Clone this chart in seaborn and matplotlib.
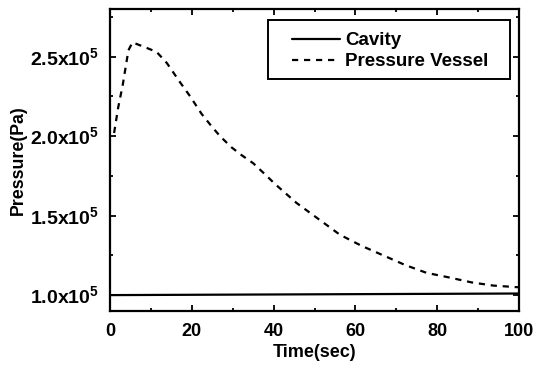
import numpy as np
import pandas as pd
import matplotlib
matplotlib.use("Agg")
import matplotlib.pyplot as plt
import seaborn as sns
from matplotlib.ticker import MultipleLocator, FuncFormatter
from matplotlib.patches import Rectangle

# Data (pressure in Pa)
cavity_t = [0, 20, 40, 60, 80, 100]
cavity_p = [1.000e5, 1.002e5, 1.004e5, 1.006e5, 1.008e5, 1.010e5]

vessel_t = [1.0, 2.0, 3.1, 4.5, 5.5, 8.5, 11.4, 13.9, 17.1, 19.6, 22.4, 24.9, 26.9, 29.7,
            32.2, 35.0, 37.9, 40.3, 45.6, 50.9, 56.2, 61.5, 66.8, 72.1, 77.4, 83.1,
            88.4, 93.7, 99.4, 100.0]
vessel_p = [2.02e5, 2.18e5, 2.32e5, 2.54e5, 2.59e5, 2.56e5, 2.53e5, 2.46e5, 2.34e5, 2.25e5,
            2.14e5, 2.06e5, 2.00e5, 1.93e5, 1.88e5, 1.83e5, 1.76e5, 1.70e5, 1.58e5,
            1.48e5, 1.38e5, 1.31e5, 1.25e5, 1.19e5, 1.14e5, 1.11e5, 1.08e5, 1.06e5,
            1.05e5, 1.05e5]

x_ticks = [0, 20, 40, 60, 80, 100]
y_ticks = [1.0e5, 1.5e5, 2.0e5, 2.5e5]

sns.set_theme(style="ticks")
plt.rcParams['font.family'] = ['Liberation Sans', 'DejaVu Sans']
plt.rcParams['mathtext.fontset'] = 'custom'
plt.rcParams['mathtext.rm'] = 'Liberation Sans:bold'
plt.rcParams['mathtext.bf'] = 'Liberation Sans:bold'
for k in ['text.color', 'axes.labelcolor', 'xtick.color', 'ytick.color', 'axes.edgecolor']:
    plt.rcParams[k] = 'black'

fig = plt.figure(figsize=(5.36, 3.73), dpi=100)
ax = fig.add_axes([110/536, 62/373, 409/536, 302/373])

df_c = pd.DataFrame({"t": cavity_t, "p": cavity_p})
df_v = pd.DataFrame({"t": vessel_t, "p": vessel_p})
sns.lineplot(data=df_c, x="t", y="p", ax=ax, color="black", lw=1.6, label="Cavity")
sns.lineplot(data=df_v, x="t", y="p", ax=ax, color="black", lw=1.6,
             label="Pressure Vessel")
ax.lines[1].set_dashes([2.8, 2.6])

ax.set_xlim(0, 100)
ax.set_ylim(0.9e5, 2.8e5)
ax.set_xticks(x_ticks)
ax.set_yticks(y_ticks)
ax.xaxis.set_minor_locator(MultipleLocator(10))
ax.yaxis.set_minor_locator(MultipleLocator(0.25e5))
ax.xaxis.set_major_formatter(FuncFormatter(lambda v, p: f"{int(v)}"))
ax.yaxis.set_major_formatter(FuncFormatter(lambda v, p: f"{v/1e5:.1f}x10$^5$"))

ax.tick_params(which="both", direction="in", top=True, right=True, width=1.3, color="black")
ax.tick_params(which="major", length=4)
ax.tick_params(which="minor", length=2.5)
ax.tick_params(axis="x", which="major", labelsize=13, pad=9)
ax.tick_params(axis="y", which="major", labelsize=14, pad=8)
for lab in ax.get_xticklabels() + ax.get_yticklabels():
    lab.set_fontweight("bold")
for s in ax.spines.values():
    s.set_linewidth(1.6)
    s.set_color("black")

ax.set_xlabel("Time(sec)", fontsize=13, fontweight="bold")
ax.set_ylabel("Pressure(Pa)", fontsize=12.8, fontweight="bold")
ax.xaxis.set_label_coords(0.5, -0.108)
ax.yaxis.set_label_coords(-0.204, 0.5)

# legend frame box
ax.add_patch(Rectangle((268/536, (373-79)/373), 242/536, 59/373, transform=fig.transFigure,
                       fill=True, facecolor="white", edgecolor="black", lw=1.4, zorder=5,
                       clip_on=False))
leg = ax.legend(loc="upper left", bbox_to_anchor=(292/536, (373-32)/373),
                bbox_transform=fig.transFigure, frameon=False,
                prop={"size": 13.5, "weight": "bold"}, borderpad=0, borderaxespad=0,
                handlelength=2.55, labelspacing=0.22, handletextpad=0.3)
leg.set_zorder(6)

fig.savefig("out.png", dpi=100)
